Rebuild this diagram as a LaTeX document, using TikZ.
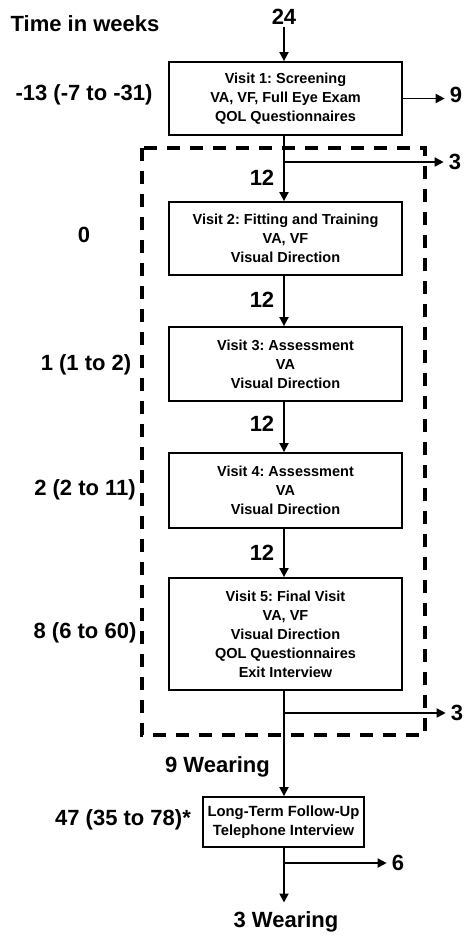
\documentclass[tikz,border=0pt]{standalone}
\usepackage{fontspec}
\setmainfont{Liberation Sans}
\usetikzlibrary{arrows.meta}
\begin{document}
\frenchspacing
\begin{tikzpicture}[x=1pt,y=-1pt,
  lbl/.style={font=\fontsize{22}{25}\selectfont\bfseries, inner sep=0pt},
  box/.style={draw, line width=1.8pt, minimum width=233pt, align=center,
    font=\fontsize{14.5}{19}\selectfont\bfseries, inner sep=0pt},
  smallbox/.style={box, minimum width=161pt, minimum height=50pt,
    font=\fontsize{14.8}{19}\selectfont\bfseries},
  arr/.style={line width=1.8pt, -{Triangle[length=9pt,width=9pt]}},
  dashbox/.style={line width=3.5pt, dash pattern=on 13pt off 10pt},
]
\useasboundingbox (0,0) rectangle (474,943);

% time labels
\node[lbl] (tw) at (85,24) {Time in weeks};
\node[lbl] (t1) at (84,95) {-13 (-7 to -31)};
\node[lbl] (t2) at (84,235) {0};
\node[lbl] (t3) at (86,365) {1 (1 to 2)};
\node[lbl] (t4) at (85,490) {2 (2 to 11)};
\node[lbl] (t5) at (85,633) {8 (6 to 60)};
\node[lbl] (t6) at (123,820) {47 (35 to 78)*};

% dashed frame
\draw[dashbox] (142,148) rectangle (425,735);

% boxes
\node[box, minimum height=73pt] (v1) at (285.5,98.5)
  {Visit 1: Screening\\VA, VF, Full Eye Exam\\QOL Questionnaires};
\node[box, minimum height=73pt] (v2) at (285.5,238.5)
  {Visit 2: Fitting and Training\\VA, VF\\Visual Direction};
\node[box, minimum height=74pt] (v3) at (285.5,364)
  {Visit 3: Assessment\\VA\\Visual Direction};
\node[box, minimum height=75pt] (v4) at (285.5,490.5)
  {Visit 4: Assessment\\VA\\Visual Direction};
\node[box, minimum height=112pt] (v5) at (285.5,634)
  {Visit 5: Final Visit\\VA, VF\\Visual Direction\\QOL Questionnaires\\Exit Interview};
\node[smallbox] (v6) at (283.5,822)
  {Long-Term Follow-Up\\Telephone Interview};

% counts
\node[lbl] (n24) at (284,17) {24};
\node[lbl] (n9) at (456,95) {9};
\node[lbl] (n3a) at (455,162) {3};
\node[lbl] (c1) at (262,178) {12};
\node[lbl] (c2) at (262,300) {12};
\node[lbl] (c3) at (262,424) {12};
\node[lbl] (c4) at (262,553) {12};
\node[lbl] (n3b) at (457,713) {3};
\node[lbl] (w9) at (217.5,767) {9 Wearing};
\node[lbl] (n6) at (398,863) {6};
\node[lbl] (w3) at (286,922) {3 Wearing};

% branch points
\coordinate (b1) at (284,162);
\coordinate (b2) at (284,713);
\coordinate (b3) at (284,863);

% connectors
\draw[arr, shorten <=2pt] (n24.south) -- (v1.north -| n24.south);
\draw[arr, shorten >=5pt] (v1.east) -- (v1.east -| n9.west);
\draw[arr] (v1.south -| b1) -- (v2.north -| b1);
\draw[arr, shorten >=5pt] (b1) -- (b1 -| n3a.west);
\draw[arr] (v2.south -| b1) -- (v3.north -| b1);
\draw[arr] (v3.south -| b1) -- (v4.north -| b1);
\draw[arr] (v4.south -| b1) -- (v5.north -| b1);
\draw[arr] (v5.south -| b1) -- (v6.north -| b1);
\draw[arr, shorten >=5pt] (b2) -- (b2 -| n3b.west);
\draw[arr, shorten >=9pt] (v6.south -| b1) -- (w3.north -| b1);
\draw[arr, shorten >=5pt] (b3) -- (b3 -| n6.west);
\end{tikzpicture}
\end{document}
